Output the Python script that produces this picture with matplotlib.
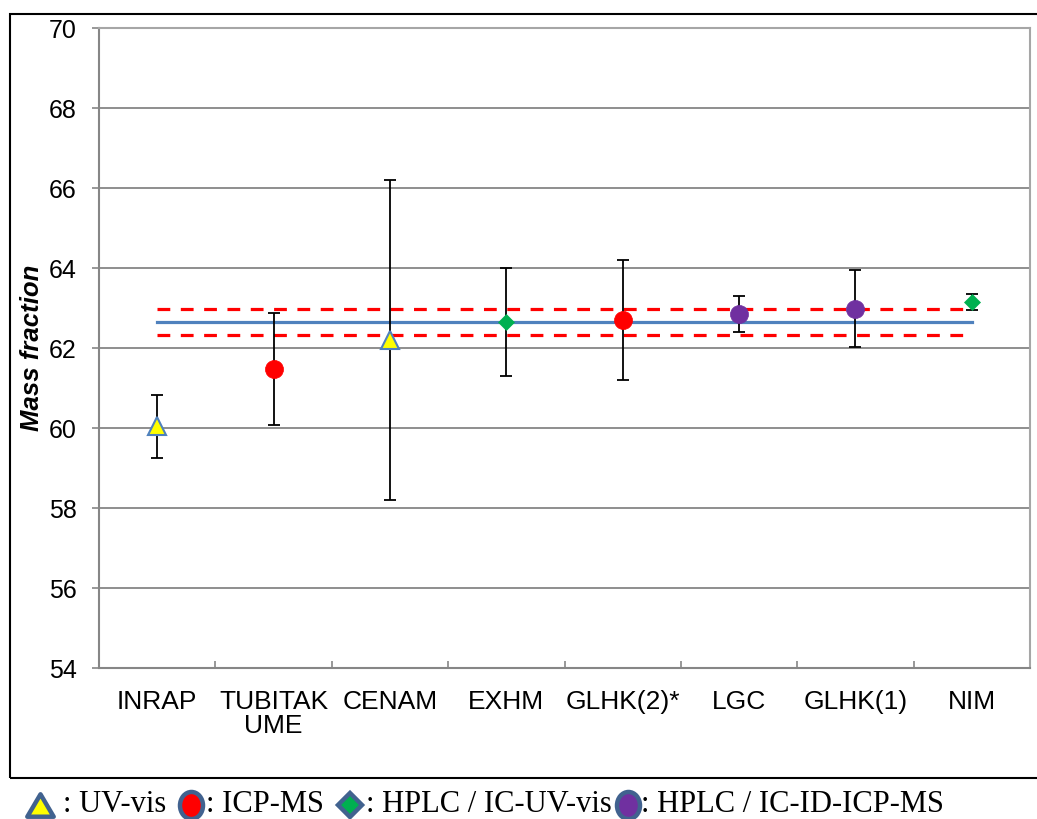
import matplotlib
matplotlib.use("Agg")
import matplotlib.pyplot as plt
import numpy as np
from matplotlib.lines import Line2D
from matplotlib.patches import Rectangle
from matplotlib.path import Path
from matplotlib.transforms import Affine2D

# ---------------- data ----------------
labs = ["INRAP", "TUBITAK\nUME", "CENAM", "EXHM", "GLHK(2)*", "LGC", "GLHK(1)", "NIM"]
values = [60.04, 61.48, 62.20, 62.65, 62.70, 62.86, 62.98, 63.15]
uncert = [0.79, 1.40, 4.00, 1.35, 1.50, 0.45, 0.96, 0.19]
methods = ["uv", "icp", "uv", "hplc_uv", "icp", "idms", "idms", "hplc_uv"]
ref_mean = 62.65
ref_unc = 0.33
y_ticks = [54, 56, 58, 60, 62, 64, 66, 68, 70]
legend_labels = [": UV-vis", ": ICP-MS", ": HPLC / IC-UV-vis", ": HPLC / IC-ID-ICP-MS"]

# ---------------- styles ----------------
W, H = 1037, 819
plt.rcParams["font.family"] = ["Liberation Sans", "DejaVu Sans"]
style = {
    "uv": dict(marker="^", mfc="#FFFF00", mec="#4F81BD", ms=13, mew=1.5),
    "icp": dict(marker="o", mfc="#FF0000", mec="#FF0000", ms=13, mew=0.5),
    "hplc_uv": dict(marker="D", mfc="#00B050", mec="#00B050", ms=8.5, mew=0.5),
    "idms": dict(marker="o", mfc="#7030A0", mec="#7030A0", ms=13, mew=0.5),
}

fig = plt.figure(figsize=(W / 100, H / 100), dpi=100)
ax = fig.add_axes([99 / W, (H - 668) / H, 931 / W, 640 / H])

x = np.arange(len(labs))
grid_c = "#868686"

# reference value and its uncertainty band
ax.plot(x, [ref_mean] * len(x), color="#4F81BD", lw=2.3, zorder=3)
ax.plot(x, [ref_mean + ref_unc] * len(x), color="#FF0000", lw=2.3,
        dashes=(4, 3.3), zorder=3)
ax.plot(x, [ref_mean - ref_unc] * len(x), color="#FF0000", lw=2.3,
        dashes=(4, 3.3), zorder=3)

# error bars
ax.errorbar(x, values, yerr=uncert, fmt="none", ecolor="black", elinewidth=1.3,
            capsize=4.5, capthick=1.3, zorder=4)

# markers
for xi, v, m in zip(x, values, methods):
    ax.plot([xi], [v], linestyle="none", zorder=5, **style[m])

ax.set_xlim(-0.5, len(labs) - 0.5)
ax.set_ylim(54, 70)
ax.set_yticks(y_ticks)
ax.set_yticklabels([str(t) for t in y_ticks], fontsize=18)
ax.set_xticks(x)
ax.set_xticklabels(labs, fontsize=19, linespacing=1.0)
ax.set_xticks(np.arange(len(labs) + 1) - 0.5, minor=True)
ax.tick_params(axis="x", which="major", length=0, pad=16)
ax.tick_params(axis="x", which="minor", direction="in", length=5, color=grid_c, width=1.2)
ax.tick_params(axis="y", direction="out", length=5, color=grid_c, width=1.2, pad=11)
ax.yaxis.grid(True, color=grid_c, lw=1.3, zorder=0)
ax.set_axisbelow(True)
for s in ["left", "bottom"]:
    ax.spines[s].set_color(grid_c)
    ax.spines[s].set_linewidth(1.5)
for s in ["top", "right"]:
    ax.spines[s].set_color("#A6A6A6")
    ax.spines[s].set_linewidth(1.5)

ax.set_ylabel("Mass fraction", fontsize=18.5, fontweight="bold", style="italic")
ax.yaxis.set_label_coords((44 - 99) / 931, 0.5)

# outer chart box
fig.add_artist(Rectangle((10 / W, (H - 778) / H), 1.05, (778 - 14) / H,
                         transform=fig.transFigure, fill=False, edgecolor="black",
                         lw=1.5, clip_on=False))

# ---------------- custom legend below the box ----------------
ellipse = Path.unit_circle().transformed(Affine2D().scale(0.85, 1.0))
tri = Path([(0, 0.85), (-1, -0.85), (1, -0.85), (0, 0.85)],
           [Path.MOVETO, Path.LINETO, Path.LINETO, Path.CLOSEPOLY])
leg_edge = "#41628F"
leg_markers = [
    dict(marker=tri, mfc="#FFFF00", ms=19, mew=3.2),
    dict(marker=ellipse, mfc="#FF0000", ms=19.5, mew=3.2),
    dict(marker="D", mfc="#00B050", ms=12.5, mew=3.2),
    dict(marker=ellipse, mfc="#7030A0", ms=19.5, mew=3.2),
]
mk_x = [40, 191, 350, 628]
tx_x = [63, 206, 366, 641]
for mx, tx, mk, lab in zip(mk_x, tx_x, leg_markers, legend_labels):
    fig.add_artist(Line2D([mx / W], [(H - 805) / H], transform=fig.transFigure,
                          linestyle="none", mec=leg_edge, **mk))
    fig.text(tx / W, (H - 812) / H, lab, fontsize=22, va="baseline", ha="left",
             family=["Liberation Serif", "DejaVu Serif"])

fig.savefig("out.png", dpi=100)
